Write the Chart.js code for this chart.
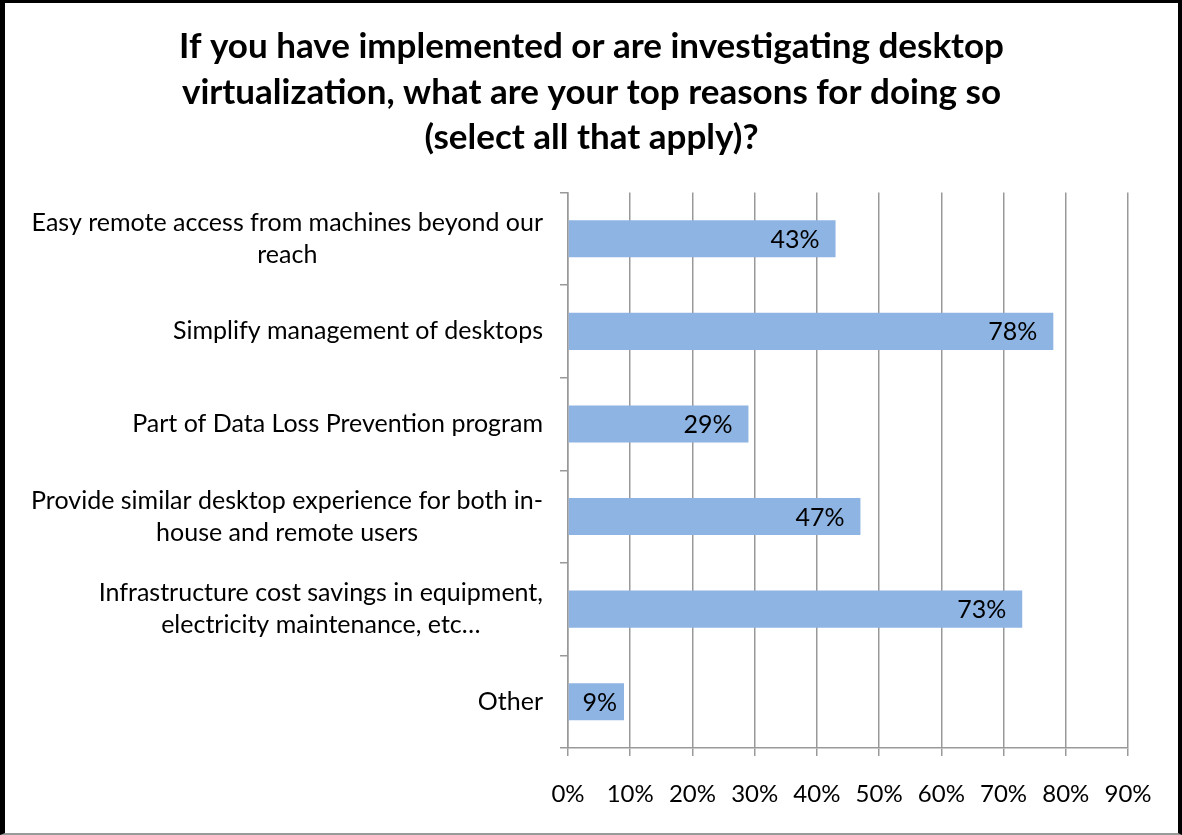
<!DOCTYPE html>
<html>
<head>
<meta charset="utf-8">
<script src="https://cdn.jsdelivr.net/npm/chart.js@4"></script>
<style>
  html, body { margin: 0; padding: 0; background: #fff; }
  #frame {
    position: absolute; left: 0; top: 0;
    width: 1182px; height: 835px; box-sizing: border-box;
    border-left: 5px solid #000; border-top: 3px solid #000;
    border-right: 4px solid #000; border-bottom: 2px solid #9a9a9a;
    background: #fff;
  }
  #wrap { position: relative; width: 1173px; height: 830px; }
</style>
</head>
<body>
<div id="frame"><div id="wrap"><canvas id="c"></canvas></div></div>
<script>
const titleLines = [
  "If you have implemented or are investigating desktop",
  "virtualization, what are your top reasons for doing so",
  "(select all that apply)?"
];
const categories = [
  ["Easy remote access from machines beyond our", "reach"],
  "Simplify management of desktops",
  "Part of Data Loss Prevention program",
  ["Provide similar desktop experience for both in-", "house and remote users"],
  ["Infrastructure cost savings in equipment,", "electricity maintenance, etc…"],
  "Other"
];
const values = [43, 78, 29, 47, 73, 9];
const xMin = 0, xMax = 90, xStep = 10;

const FONT = "Lato, Carlito, Calibri, sans-serif";
const GRID = "#999999";

// Bar value labels (inside end)
const dataLabels = {
  id: "dataLabels",
  afterDatasetsDraw(chart) {
    const ctx = chart.ctx;
    const meta = chart.getDatasetMeta(0);
    ctx.save();
    ctx.font = "25px " + FONT;
    ctx.fillStyle = "#000";
    ctx.textAlign = "right";
    ctx.textBaseline = "middle";
    meta.data.forEach((bar, i) => {
      const w = bar.x - bar.base;
      const pad = w < 80 ? 7 : 16;
      ctx.fillText(values[i] + "%", bar.x - pad, bar.y + 1);
    });
    ctx.restore();
  }
};

// Category labels: block right-aligned to the axis, lines centred within block
const categoryLabels = {
  id: "categoryLabels",
  afterDraw(chart) {
    const ctx = chart.ctx;
    const yScale = chart.scales.y;
    const right = chart.chartArea.left - 25;
    const lineH = 32;
    ctx.save();
    ctx.font = "25px " + FONT;
    ctx.fillStyle = "#000";
    ctx.textAlign = "center";
    ctx.textBaseline = "middle";
    categories.forEach((lab, i) => {
      const lines = Array.isArray(lab) ? lab : [lab];
      const w = Math.max(...lines.map(l => ctx.measureText(l).width));
      const cx = right - w / 2;
      const yc = yScale.getPixelForValue(i);
      const y0 = yc - (lines.length - 1) * lineH / 2;
      lines.forEach((l, k) => ctx.fillText(l, cx, y0 + k * lineH));
    });
    ctx.restore();
  }
};

new Chart(document.getElementById("c"), {
  type: "bar",
  data: {
    labels: categories,
    datasets: [{
      data: values,
      backgroundColor: "#8EB4E3",
      borderWidth: 0,
      barPercentage: 0.4,
      categoryPercentage: 1.0
    }]
  },
  plugins: [dataLabels, categoryLabels],
  options: {
    indexAxis: "y",
    responsive: true,
    maintainAspectRatio: false,
    animation: false,
    layout: { padding: { left: 50, right: 50, top: 0, bottom: 0 } },
    plugins: {
      legend: { display: false },
      tooltip: { enabled: false },
      title: {
        display: true,
        text: titleLines,
        color: "#000",
        font: { family: FONT, size: 35, weight: "bold", lineHeight: 1.3 },
        padding: { top: 21, bottom: 32 }
      }
    },
    scales: {
      x: {
        min: xMin, max: xMax,
        ticks: {
          stepSize: xStep,
          color: "#000",
          font: { family: FONT, size: 24 },
          padding: 24,
          callback: v => v + "%"
        },
        grid: { color: GRID, lineWidth: 1.5, tickLength: 8, drawTicks: true },
        border: { color: GRID, width: 1.5 },
        afterFit(scale) { scale.height = 85; }
      },
      y: {
        ticks: {
          color: "rgba(0,0,0,0)",
          font: { family: FONT, size: 25, lineHeight: 1.3 },
          padding: 17
        },
        grid: { color: GRID, lineWidth: 1.5, drawOnChartArea: false, tickLength: 8, offset: true },
        border: { color: GRID, width: 1.5 },
        afterFit(scale) { scale.width = 513; }
      }
    }
  }
});
</script>
</body>
</html>
